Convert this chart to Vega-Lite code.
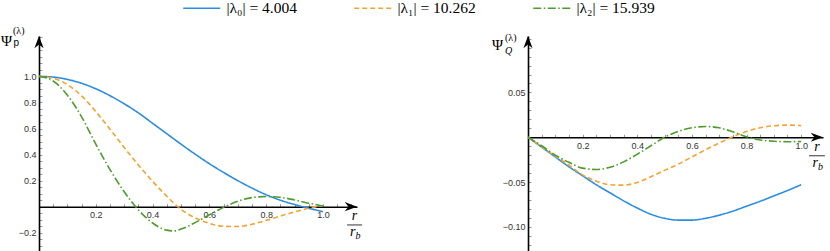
{
  "$schema": "https://vega.github.io/schema/vega-lite/v6.json",
  "padding": {"left": 0, "top": 0, "right": 0, "bottom": 0},
  "bounds": "flush",
  "spacing": 171,
  "config": {
    "view": {"stroke": null},
    "axis": {"grid": false, "domainColor": "#000000", "domainWidth": 1.6, "tickColor": "#999999", "tickSize": -3, "tickWidth": 1, "labelFont": "Liberation Sans", "labelFontSize": 9, "labelColor": "#333333", "labelOverlap": false, "labelFlush": false, "labelBound": false},
    "legend": {"orient": "none", "legendX": 155, "legendY": -36, "direction": "horizontal", "title": null, "labelFont": "Liberation Serif", "labelFontSize": 15.5, "labelColor": "#000000", "symbolType": "M-3,0L3,0", "symbolSize": 152, "symbolStrokeWidth": 1.5, "symbolFillColor": "transparent", "labelOffset": 17, "columnPadding": 54, "padding": 0, "labelLimit": 0}
  },
  "datasets": {
    "p": [
      {"x": 0, "v": 1.0, "s": "|λ₀| = 4.004"}, {"x": 0.05, "v": 0.995, "s": "|λ₀| = 4.004"}, {"x": 0.1, "v": 0.977, "s": "|λ₀| = 4.004"}, {"x": 0.15, "v": 0.947, "s": "|λ₀| = 4.004"}, {"x": 0.2, "v": 0.905, "s": "|λ₀| = 4.004"}, {"x": 0.25, "v": 0.852, "s": "|λ₀| = 4.004"}, {"x": 0.3, "v": 0.79, "s": "|λ₀| = 4.004"}, {"x": 0.35, "v": 0.72, "s": "|λ₀| = 4.004"}, {"x": 0.4, "v": 0.64, "s": "|λ₀| = 4.004"}, {"x": 0.45, "v": 0.56, "s": "|λ₀| = 4.004"}, {"x": 0.5, "v": 0.48, "s": "|λ₀| = 4.004"}, {"x": 0.55, "v": 0.403, "s": "|λ₀| = 4.004"}, {"x": 0.6, "v": 0.33, "s": "|λ₀| = 4.004"}, {"x": 0.65, "v": 0.263, "s": "|λ₀| = 4.004"}, {"x": 0.7, "v": 0.2, "s": "|λ₀| = 4.004"}, {"x": 0.75, "v": 0.143, "s": "|λ₀| = 4.004"}, {"x": 0.8, "v": 0.092, "s": "|λ₀| = 4.004"}, {"x": 0.85, "v": 0.05, "s": "|λ₀| = 4.004"}, {"x": 0.9, "v": 0.017, "s": "|λ₀| = 4.004"}, {"x": 0.95, "v": -0.012, "s": "|λ₀| = 4.004"}, {"x": 1.0, "v": -0.038, "s": "|λ₀| = 4.004"},
      {"x": 0, "v": 1.0, "s": "|λ₁| = 10.262"}, {"x": 0.05, "v": 0.986, "s": "|λ₁| = 10.262"}, {"x": 0.1, "v": 0.937, "s": "|λ₁| = 10.262"}, {"x": 0.15, "v": 0.85, "s": "|λ₁| = 10.262"}, {"x": 0.2, "v": 0.73, "s": "|λ₁| = 10.262"}, {"x": 0.25, "v": 0.595, "s": "|λ₁| = 10.262"}, {"x": 0.3, "v": 0.455, "s": "|λ₁| = 10.262"}, {"x": 0.35, "v": 0.32, "s": "|λ₁| = 10.262"}, {"x": 0.4, "v": 0.195, "s": "|λ₁| = 10.262"}, {"x": 0.45, "v": 0.08, "s": "|λ₁| = 10.262"}, {"x": 0.5, "v": -0.02, "s": "|λ₁| = 10.262"}, {"x": 0.55, "v": -0.085, "s": "|λ₁| = 10.262"}, {"x": 0.6, "v": -0.128, "s": "|λ₁| = 10.262"}, {"x": 0.65, "v": -0.15, "s": "|λ₁| = 10.262"}, {"x": 0.7, "v": -0.152, "s": "|λ₁| = 10.262"}, {"x": 0.75, "v": -0.135, "s": "|λ₁| = 10.262"}, {"x": 0.8, "v": -0.105, "s": "|λ₁| = 10.262"}, {"x": 0.85, "v": -0.072, "s": "|λ₁| = 10.262"}, {"x": 0.9, "v": -0.04, "s": "|λ₁| = 10.262"}, {"x": 0.95, "v": -0.012, "s": "|λ₁| = 10.262"}, {"x": 1.0, "v": 0.01, "s": "|λ₁| = 10.262"},
      {"x": 0, "v": 1.0, "s": "|λ₂| = 15.939"}, {"x": 0.05, "v": 0.965, "s": "|λ₂| = 15.939"}, {"x": 0.1, "v": 0.855, "s": "|λ₂| = 15.939"}, {"x": 0.15, "v": 0.69, "s": "|λ₂| = 15.939"}, {"x": 0.2, "v": 0.48, "s": "|λ₂| = 15.939"}, {"x": 0.25, "v": 0.285, "s": "|λ₂| = 15.939"}, {"x": 0.3, "v": 0.115, "s": "|λ₂| = 15.939"}, {"x": 0.35, "v": -0.025, "s": "|λ₂| = 15.939"}, {"x": 0.4, "v": -0.125, "s": "|λ₂| = 15.939"}, {"x": 0.45, "v": -0.18, "s": "|λ₂| = 15.939"}, {"x": 0.475, "v": -0.186, "s": "|λ₂| = 15.939"}, {"x": 0.5, "v": -0.172, "s": "|λ₂| = 15.939"}, {"x": 0.55, "v": -0.122, "s": "|λ₂| = 15.939"}, {"x": 0.6, "v": -0.062, "s": "|λ₂| = 15.939"}, {"x": 0.65, "v": -0.005, "s": "|λ₂| = 15.939"}, {"x": 0.7, "v": 0.042, "s": "|λ₂| = 15.939"}, {"x": 0.75, "v": 0.07, "s": "|λ₂| = 15.939"}, {"x": 0.8, "v": 0.078, "s": "|λ₂| = 15.939"}, {"x": 0.85, "v": 0.072, "s": "|λ₂| = 15.939"}, {"x": 0.9, "v": 0.052, "s": "|λ₂| = 15.939"}, {"x": 0.95, "v": 0.027, "s": "|λ₂| = 15.939"}, {"x": 1.0, "v": 0.005, "s": "|λ₂| = 15.939"}
    ],
    "q": [
      {"x": 0, "v": 0, "s": "|λ₀| = 4.004"}, {"x": 0.05, "v": -0.011, "s": "|λ₀| = 4.004"}, {"x": 0.1, "v": -0.022, "s": "|λ₀| = 4.004"}, {"x": 0.15, "v": -0.033, "s": "|λ₀| = 4.004"}, {"x": 0.2, "v": -0.043, "s": "|λ₀| = 4.004"}, {"x": 0.25, "v": -0.053, "s": "|λ₀| = 4.004"}, {"x": 0.3, "v": -0.062, "s": "|λ₀| = 4.004"}, {"x": 0.35, "v": -0.071, "s": "|λ₀| = 4.004"}, {"x": 0.4, "v": -0.079, "s": "|λ₀| = 4.004"}, {"x": 0.45, "v": -0.086, "s": "|λ₀| = 4.004"}, {"x": 0.5, "v": -0.0905, "s": "|λ₀| = 4.004"}, {"x": 0.55, "v": -0.0925, "s": "|λ₀| = 4.004"}, {"x": 0.6, "v": -0.0925, "s": "|λ₀| = 4.004"}, {"x": 0.65, "v": -0.0905, "s": "|λ₀| = 4.004"}, {"x": 0.7, "v": -0.087, "s": "|λ₀| = 4.004"}, {"x": 0.75, "v": -0.0825, "s": "|λ₀| = 4.004"}, {"x": 0.8, "v": -0.077, "s": "|λ₀| = 4.004"}, {"x": 0.85, "v": -0.0715, "s": "|λ₀| = 4.004"}, {"x": 0.9, "v": -0.0655, "s": "|λ₀| = 4.004"}, {"x": 0.95, "v": -0.0595, "s": "|λ₀| = 4.004"}, {"x": 1.0, "v": -0.053, "s": "|λ₀| = 4.004"},
      {"x": 0, "v": 0, "s": "|λ₁| = 10.262"}, {"x": 0.05, "v": -0.011, "s": "|λ₁| = 10.262"}, {"x": 0.1, "v": -0.021, "s": "|λ₁| = 10.262"}, {"x": 0.15, "v": -0.031, "s": "|λ₁| = 10.262"}, {"x": 0.2, "v": -0.042, "s": "|λ₁| = 10.262"}, {"x": 0.25, "v": -0.049, "s": "|λ₁| = 10.262"}, {"x": 0.3, "v": -0.053, "s": "|λ₁| = 10.262"}, {"x": 0.35, "v": -0.0535, "s": "|λ₁| = 10.262"}, {"x": 0.4, "v": -0.0505, "s": "|λ₁| = 10.262"}, {"x": 0.45, "v": -0.044, "s": "|λ₁| = 10.262"}, {"x": 0.5, "v": -0.037, "s": "|λ₁| = 10.262"}, {"x": 0.55, "v": -0.03, "s": "|λ₁| = 10.262"}, {"x": 0.6, "v": -0.022, "s": "|λ₁| = 10.262"}, {"x": 0.65, "v": -0.014, "s": "|λ₁| = 10.262"}, {"x": 0.7, "v": -0.0065, "s": "|λ₁| = 10.262"}, {"x": 0.75, "v": 0.0005, "s": "|λ₁| = 10.262"}, {"x": 0.8, "v": 0.0065, "s": "|λ₁| = 10.262"}, {"x": 0.85, "v": 0.0105, "s": "|λ₁| = 10.262"}, {"x": 0.9, "v": 0.0128, "s": "|λ₁| = 10.262"}, {"x": 0.95, "v": 0.0135, "s": "|λ₁| = 10.262"}, {"x": 1.0, "v": 0.013, "s": "|λ₁| = 10.262"},
      {"x": 0, "v": 0, "s": "|λ₂| = 15.939"}, {"x": 0.05, "v": -0.0095, "s": "|λ₂| = 15.939"}, {"x": 0.1, "v": -0.02, "s": "|λ₂| = 15.939"}, {"x": 0.15, "v": -0.028, "s": "|λ₂| = 15.939"}, {"x": 0.2, "v": -0.0345, "s": "|λ₂| = 15.939"}, {"x": 0.25, "v": -0.036, "s": "|λ₂| = 15.939"}, {"x": 0.3, "v": -0.0335, "s": "|λ₂| = 15.939"}, {"x": 0.35, "v": -0.0275, "s": "|λ₂| = 15.939"}, {"x": 0.4, "v": -0.019, "s": "|λ₂| = 15.939"}, {"x": 0.45, "v": -0.0095, "s": "|λ₂| = 15.939"}, {"x": 0.5, "v": 0.0, "s": "|λ₂| = 15.939"}, {"x": 0.55, "v": 0.0065, "s": "|λ₂| = 15.939"}, {"x": 0.6, "v": 0.0105, "s": "|λ₂| = 15.939"}, {"x": 0.65, "v": 0.012, "s": "|λ₂| = 15.939"}, {"x": 0.7, "v": 0.0105, "s": "|λ₂| = 15.939"}, {"x": 0.75, "v": 0.006, "s": "|λ₂| = 15.939"}, {"x": 0.8, "v": 0.0005, "s": "|λ₂| = 15.939"}, {"x": 0.85, "v": -0.003, "s": "|λ₂| = 15.939"}, {"x": 0.9, "v": -0.0045, "s": "|λ₂| = 15.939"}, {"x": 0.95, "v": -0.005, "s": "|λ₂| = 15.939"}, {"x": 1.0, "v": -0.0048, "s": "|λ₂| = 15.939"}
    ]
  },
  "hconcat": [
    {
      "width": 318,
      "height": 215,
      "encoding": {
        "x": {"type": "quantitative", "scale": {"domain": [0, 1.12], "nice": false, "zero": false},
              "axis": {"title": null, "orient": "bottom", "offset": -44.32, "labelPadding": 7, "values": [0.05,0.1,0.15,0.2,0.25,0.3,0.35,0.4,0.45,0.5,0.55,0.6,0.65,0.7,0.75,0.8,0.85,0.9,0.95,1.0,1.05,1.1],
                       "labelExpr": "(round(datum.value*100) % 20 == 0 && datum.value < 1.05) ? format(datum.value, '.1f') : ''"}},
        "y": {"type": "quantitative", "scale": {"domain": [-0.34, 1.31], "nice": false, "zero": false},
              "axis": {"title": null, "orient": "left", "labelPadding": 6, "values": [-0.3,-0.25,-0.2,-0.15,-0.1,-0.05,0.05,0.1,0.15,0.2,0.25,0.3,0.35,0.4,0.45,0.5,0.55,0.6,0.65,0.7,0.75,0.8,0.85,0.9,0.95,1.0,1.05,1.1,1.15,1.2,1.25,1.3],
                       "labelExpr": "(round(datum.value*100) % 20 == 0 && datum.value < 1.05) ? format(datum.value, '.1f') : ''"}}
      },
      "layer": [
        {
          "data": {"name": "p"},
          "mark": {"type": "line", "strokeWidth": 1.6, "interpolate": "monotone"},
          "encoding": {
            "x": {"field": "x"},
            "y": {"field": "v"},
            "color": {"field": "s", "type": "nominal", "scale": {"domain": ["|λ₀| = 4.004", "|λ₁| = 10.262", "|λ₂| = 15.939"], "range": ["#2b8de0", "#f2a433", "#4e9c2d"]}},
            "strokeDash": {"field": "s", "type": "nominal", "scale": {"domain": ["|λ₀| = 4.004", "|λ₁| = 10.262", "|λ₂| = 15.939"], "range": [[1, 0], [5, 3], [8, 2.5, 1.5, 2.5]]}}
          }
        },
        {
          "data": {"values": [{}]},
          "mark": {"type": "point", "shape": "M0,0L-2,-0.75L-1.4,0L-2,0.75Z", "filled": true, "size": 150, "color": "#000000", "opacity": 1, "strokeWidth": 0},
          "encoding": {"x": {"datum": 1.12, "type": "quantitative"}, "y": {"datum": 0, "type": "quantitative"}}
        },
        {
          "data": {"values": [{}]},
          "mark": {"type": "point", "shape": "M0,0L-0.75,2L0,1.4L0.75,2Z", "filled": true, "size": 150, "color": "#000000", "opacity": 1, "strokeWidth": 0},
          "encoding": {"x": {"datum": 0, "type": "quantitative"}, "y": {"datum": 1.31, "type": "quantitative"}}
        },
        {
          "data": {"values": [{}]},
          "mark": {"type": "text", "text": "Ψ", "font": "Liberation Serif", "fontSize": 15, "align": "right", "baseline": "alphabetic", "dx": -27, "dy": 10, "color": "#000000"},
          "encoding": {"x": {"datum": 0}, "y": {"datum": 1.31}}
        },
        {
          "data": {"values": [{}]},
          "mark": {"type": "text", "text": "(λ)", "font": "Liberation Serif", "fontSize": 10, "align": "left", "baseline": "alphabetic", "dx": -26, "dy": -2.5, "color": "#000000"},
          "encoding": {"x": {"datum": 0}, "y": {"datum": 1.31}}
        },
        {
          "data": {"values": [{}]},
          "mark": {"type": "text", "text": "p", "font": "Liberation Sans", "fontSize": 10, "align": "left", "baseline": "alphabetic", "dx": -25.5, "dy": 10, "color": "#000000"},
          "encoding": {"x": {"datum": 0}, "y": {"datum": 1.31}}
        },
        {
          "data": {"values": [{}]},
          "mark": {"type": "text", "text": "r", "font": "Liberation Serif", "fontStyle": "italic", "fontSize": 14, "align": "center", "baseline": "alphabetic", "dy": 13, "color": "#000000"},
          "encoding": {"x": {"datum": 1.111}, "y": {"datum": 0}}
        },
        {
          "data": {"values": [{}]},
          "mark": {"type": "rule", "strokeWidth": 0.8, "color": "#000000"},
          "encoding": {"x": {"datum": 1.085}, "x2": {"datum": 1.138}, "y": {"datum": -0.14}}
        },
        {
          "data": {"values": [{}]},
          "mark": {"type": "text", "text": "r", "font": "Liberation Serif", "fontStyle": "italic", "fontSize": 14, "align": "right", "baseline": "alphabetic", "dx": 1, "dy": 29, "color": "#000000"},
          "encoding": {"x": {"datum": 1.111}, "y": {"datum": 0}}
        },
        {
          "data": {"values": [{}]},
          "mark": {"type": "text", "text": "b", "font": "Liberation Serif", "fontStyle": "italic", "fontSize": 10, "align": "left", "baseline": "alphabetic", "dx": 1, "dy": 32, "color": "#000000"},
          "encoding": {"x": {"datum": 1.111}, "y": {"datum": 0}}
        }
      ]
    },
    {
      "width": 295,
      "height": 215,
      "encoding": {
        "x": {"type": "quantitative", "scale": {"domain": [0, 1.08], "nice": false, "zero": false},
              "axis": {"title": null, "orient": "bottom", "offset": -113.77, "labelPadding": 7, "values": [0.05,0.1,0.15,0.2,0.25,0.3,0.35,0.4,0.45,0.5,0.55,0.6,0.65,0.7,0.75,0.8,0.85,0.9,0.95,1.0,1.05],
                       "labelExpr": "(round(datum.value*100) % 20 == 0 && datum.value < 1.05) ? format(datum.value, '.1f') : ''"}},
        "y": {"type": "quantitative", "scale": {"domain": [-0.127, 0.113], "nice": false, "zero": false},
              "axis": {"title": null, "orient": "left", "labelPadding": 6, "values": [-0.12,-0.11,-0.1,-0.09,-0.08,-0.07,-0.06,-0.05,-0.04,-0.03,-0.02,-0.01,0.01,0.02,0.03,0.04,0.05,0.06,0.07,0.08,0.09,0.1,0.11],
                       "labelExpr": "(round(datum.value*100) % 5 == 0 && datum.value < 0.08) ? format(datum.value, '.2f') : ''"}}
      },
      "layer": [
        {
          "data": {"name": "q"},
          "mark": {"type": "line", "strokeWidth": 1.6, "interpolate": "monotone"},
          "encoding": {
            "x": {"field": "x"},
            "y": {"field": "v"},
            "color": {"field": "s", "type": "nominal", "scale": {"domain": ["|λ₀| = 4.004", "|λ₁| = 10.262", "|λ₂| = 15.939"], "range": ["#2b8de0", "#f2a433", "#4e9c2d"]}},
            "strokeDash": {"field": "s", "type": "nominal", "scale": {"domain": ["|λ₀| = 4.004", "|λ₁| = 10.262", "|λ₂| = 15.939"], "range": [[1, 0], [5, 3], [8, 2.5, 1.5, 2.5]]}}
          }
        },
        {
          "data": {"values": [{}]},
          "mark": {"type": "point", "shape": "M0,0L-2,-0.75L-1.4,0L-2,0.75Z", "filled": true, "size": 150, "color": "#000000", "opacity": 1, "strokeWidth": 0},
          "encoding": {"x": {"datum": 1.08, "type": "quantitative"}, "y": {"datum": 0, "type": "quantitative"}}
        },
        {
          "data": {"values": [{}]},
          "mark": {"type": "point", "shape": "M0,0L-0.75,2L0,1.4L0.75,2Z", "filled": true, "size": 150, "color": "#000000", "opacity": 1, "strokeWidth": 0},
          "encoding": {"x": {"datum": 0, "type": "quantitative"}, "y": {"datum": 0.113, "type": "quantitative"}}
        },
        {
          "data": {"values": [{}]},
          "mark": {"type": "text", "text": "Ψ", "font": "Liberation Serif", "fontSize": 15, "align": "right", "baseline": "alphabetic", "dx": -25, "dy": 14, "color": "#000000"},
          "encoding": {"x": {"datum": 0}, "y": {"datum": 0.113}}
        },
        {
          "data": {"values": [{}]},
          "mark": {"type": "text", "text": "(λ)", "font": "Liberation Serif", "fontSize": 10, "align": "left", "baseline": "alphabetic", "dx": -23, "dy": 5, "color": "#000000"},
          "encoding": {"x": {"datum": 0}, "y": {"datum": 0.113}}
        },
        {
          "data": {"values": [{}]},
          "mark": {"type": "text", "text": "Q", "font": "Liberation Serif", "fontStyle": "italic", "fontSize": 10, "align": "left", "baseline": "alphabetic", "dx": -23, "dy": 18, "color": "#000000"},
          "encoding": {"x": {"datum": 0}, "y": {"datum": 0.113}}
        },
        {
          "data": {"values": [{}]},
          "mark": {"type": "text", "text": "r", "font": "Liberation Serif", "fontStyle": "italic", "fontSize": 14, "align": "center", "baseline": "alphabetic", "dy": 14, "color": "#000000"},
          "encoding": {"x": {"datum": 1.058}, "y": {"datum": 0}}
        },
        {
          "data": {"values": [{}]},
          "mark": {"type": "rule", "strokeWidth": 0.8, "color": "#000000"},
          "encoding": {"x": {"datum": 1.029}, "x2": {"datum": 1.087}, "y": {"datum": -0.0207}}
        },
        {
          "data": {"values": [{}]},
          "mark": {"type": "text", "text": "r", "font": "Liberation Serif", "fontStyle": "italic", "fontSize": 14, "align": "right", "baseline": "alphabetic", "dx": 1, "dy": 30, "color": "#000000"},
          "encoding": {"x": {"datum": 1.058}, "y": {"datum": 0}}
        },
        {
          "data": {"values": [{}]},
          "mark": {"type": "text", "text": "b", "font": "Liberation Serif", "fontStyle": "italic", "fontSize": 10, "align": "left", "baseline": "alphabetic", "dx": 1, "dy": 33, "color": "#000000"},
          "encoding": {"x": {"datum": 1.058}, "y": {"datum": 0}}
        }
      ]
    }
  ]
}
